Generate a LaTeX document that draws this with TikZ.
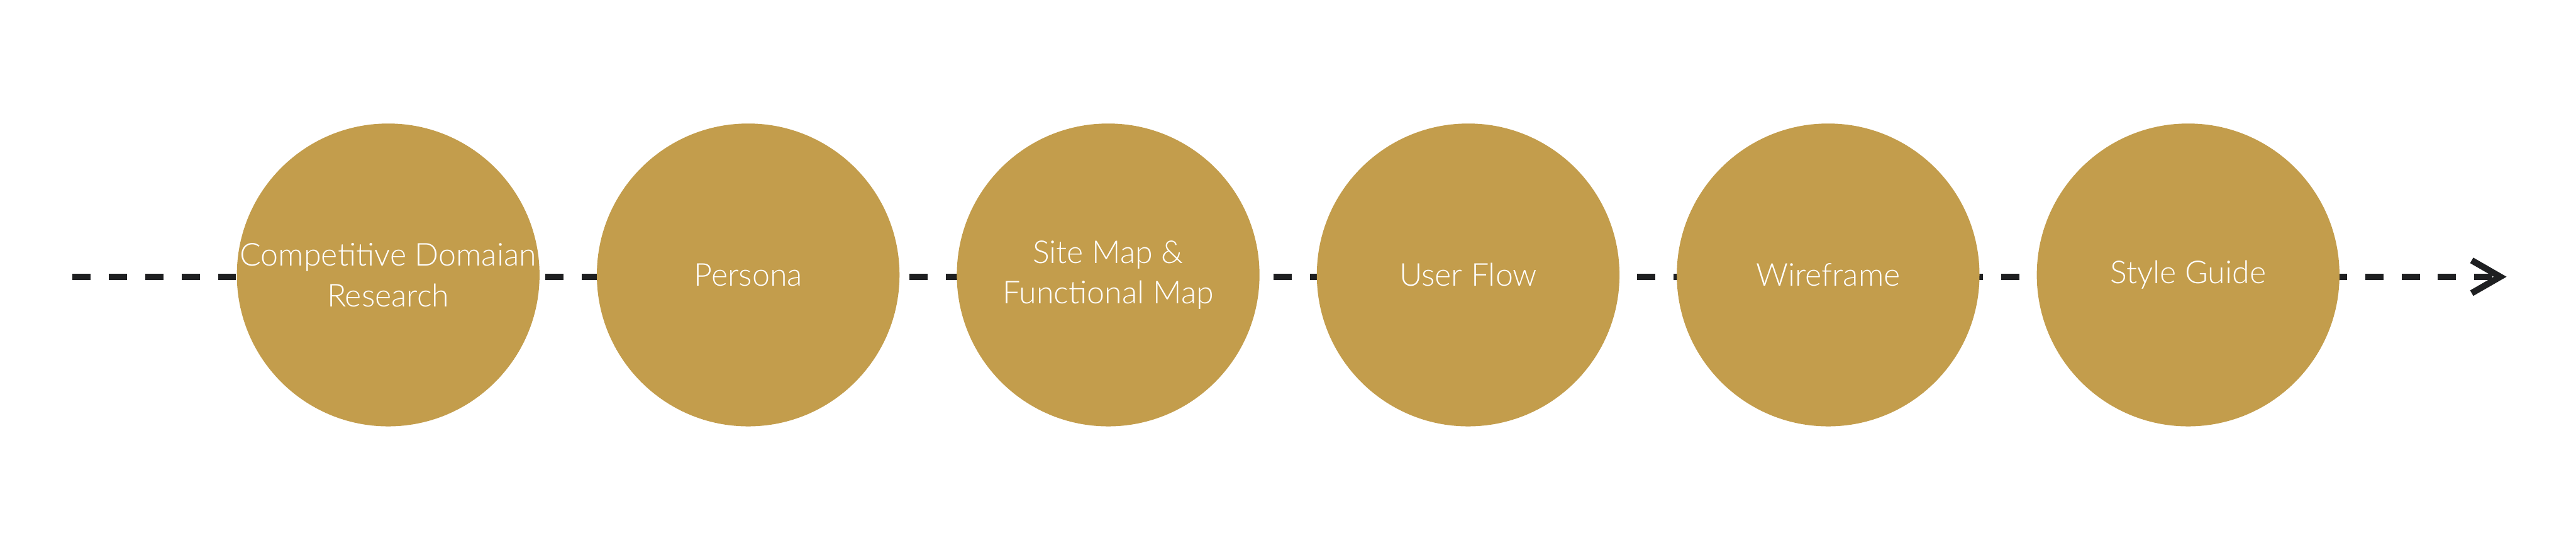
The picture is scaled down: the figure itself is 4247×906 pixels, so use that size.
\documentclass[tikz,border=0pt]{standalone}
\usepackage{fontspec}
\setmainfont{Lato Light}
\definecolor{gold}{HTML}{C39D4C}
\definecolor{ink}{HTML}{1E1F21}
\tikzset{
  stage/.style={circle, fill=gold, draw=none, minimum size=499pt, inner sep=0pt,
    text=white, align=center, font=\fontsize{52}{67}\selectfont},
  flow/.style={draw=ink, line width=10.5pt, dash pattern=on 30pt off 30pt},
  chev/.style={draw=ink, line width=10.5pt, solid, line join=miter, line cap=butt}
}
\begin{document}
\begin{tikzpicture}[x=1pt,y=-1pt]
\useasboundingbox (0,0) rectangle (4247,906);
\coordinate (s) at (119.3,456);
\coordinate (e) at (4110,456);
\coordinate (tip) at (4122,456);
\draw[flow] (s) -- (e);
\draw[chev] (tip) ++(-47,-27) -- (tip) -- ++(-47,27);
\node[stage] (c1) at (640,453) {Competitive Domaian\\Research};
\node[stage] (c2) at (1233.5,453) {Persona};
\node[stage] (c3) at (1827,453) {Site Map \&\\Functional Map};
\node[stage] (c4) at (2420.5,453) {User Flow};
\node[stage] (c5) at (3014,453) {Wireframe};
\node[stage] (c6) at (3607.5,453) {Style Guide};
\end{tikzpicture}
\end{document}
